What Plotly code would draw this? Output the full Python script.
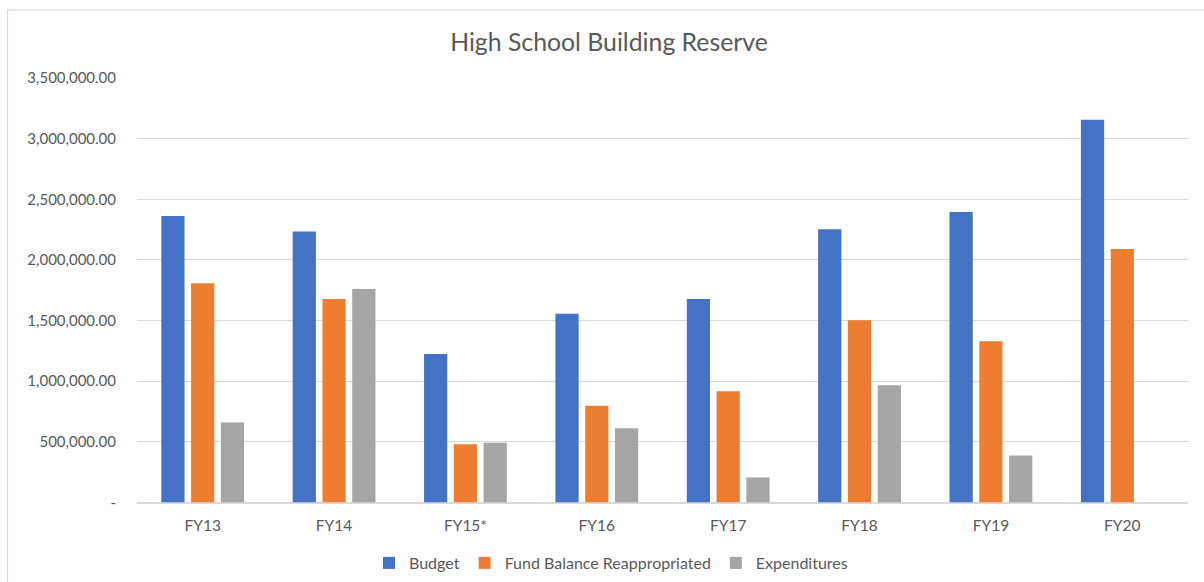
import plotly.graph_objects as go

# Fiscal years and reserve amounts (USD)
years = ["FY13", "FY14", "FY15*", "FY16", "FY17", "FY18", "FY19", "FY20"]
budget = [2362000, 2235000, 1225000, 1557000, 1678000, 2252000, 2395000, 3155000]
fund_balance = [1807000, 1678000, 481000, 797000, 918000, 1502000, 1329000, 2090000]
expenditures = [659000, 1760000, 492000, 613000, 206000, 967000, 387000, None]

# Y axis ticks in accounting style (zero shown as a dash)
tick_values = [0, 500000, 1000000, 1500000, 2000000, 2500000, 3000000, 3500000]
tick_labels = ["-", "500,000.00", "1,000,000.00", "1,500,000.00", "2,000,000.00",
               "2,500,000.00", "3,000,000.00", "3,500,000.00"]

series = [
    ("Budget", budget, "#4472C4"),
    ("Fund Balance Reappropriated", fund_balance, "#ED7D31"),
    ("Expenditures", expenditures, "#A5A5A5"),
]

TEXT = "#595959"
GRID = "#D9D9D9"
FONT = "Lato, Open Sans, sans-serif"

fig = go.Figure()
for name, vals, color in series:
    fig.add_trace(go.Bar(
        x=years, y=vals, name=name,
        marker=dict(color=color, line=dict(width=0)),
    ))

fig.update_layout(
    width=1204, height=582,
    margin=dict(l=137, r=16, t=78, b=78),
    paper_bgcolor="white", plot_bgcolor="white",
    font=dict(family=FONT, color=TEXT, size=15),
    barmode="group", bargap=0.32, bargroupgap=0.22,
    title=dict(text="High School Building Reserve", x=609 / 1204, xanchor="center",
               xref="container", y=1 - 42 / 582, yref="container", yanchor="middle",
               font=dict(size=24.8, color=TEXT, family=FONT)),
    legend=dict(orientation="h", xref="container", yref="container",
                x=611 / 1204, xanchor="center", y=1 - 563 / 582, yanchor="middle",
                font=dict(size=16, color=TEXT), itemwidth=30, traceorder="normal"),
    showlegend=True,
)

fig.update_xaxes(showgrid=False, showline=False, zeroline=False, ticks="",
                 ticklabelstandoff=12, tickfont=dict(size=15.5, color=TEXT))
fig.update_yaxes(range=[0, 3500000], tickvals=tick_values, ticktext=tick_labels,
                 showgrid=True, gridcolor=GRID, gridwidth=1,
                 zeroline=True, zerolinecolor=GRID, zerolinewidth=2,
                 showline=False, ticks="", ticklabelstandoff=20,
                 tickfont=dict(size=15, color=TEXT))

# Chart frame
fig.add_shape(type="rect", xref="paper", yref="paper",
              x0=(7.5 - 137) / 1051, x1=1.3, y0=-0.5, y1=(503.7 - 10) / 425.4,
              line=dict(color=GRID, width=1.2), fillcolor="rgba(0,0,0,0)", layer="below")

fig.write_html("out.html")
